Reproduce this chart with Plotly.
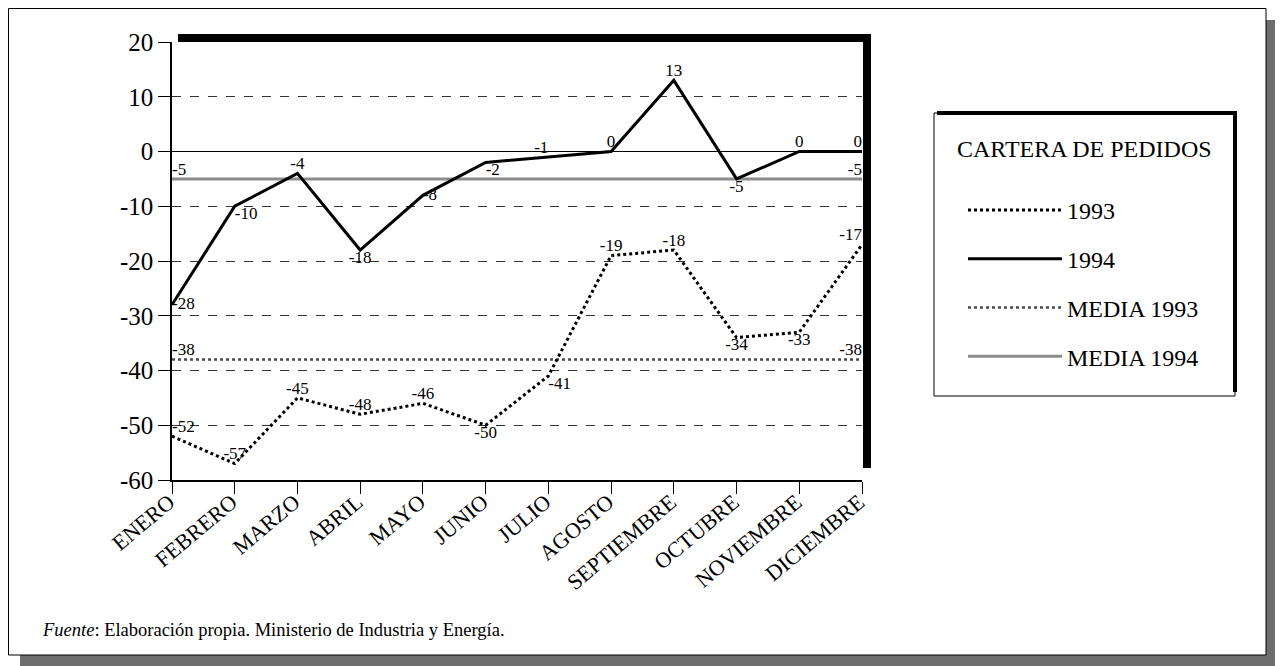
import plotly.graph_objects as go

MONTHS = ["ENERO", "FEBRERO", "MARZO", "ABRIL", "MAYO", "JUNIO", "JULIO",
          "AGOSTO", "SEPTIEMBRE", "OCTUBRE", "NOVIEMBRE", "DICIEMBRE"]
Y1993 = [-52, -57, -45, -48, -46, -50, -41, -19, -18, -34, -33, -17]
Y1994 = [-28, -10, -4, -18, -8, -2, -1, 0, 13, -5, 0, 0]
MEDIA_1993 = -38
MEDIA_1994 = -5
Y_TICKS = [20, 10, 0, -10, -20, -30, -40, -50, -60]

FONT = "Liberation Serif"
OFF = 8                      # page body margin in the browser
W, H = 1283 - OFF, 666 - OFF
# plot area in screen pixels
SL, SR, ST, SB = 172, 862, 42, 480
L, R, T, B = SL - OFF, SR - OFF, ST - OFF, SB - OFF


def X(px):
    return (px - OFF - L) / (R - L)


def Y(py):
    return (B - (py - OFF)) / (B - T)


xs = list(range(len(MONTHS)))

pos1994 = ["middle right", "bottom right", "top center", "bottom center", "middle right",
           "bottom right", "top left", "top center", "top center", "bottom center",
           "top center", "top left"]
pos1993 = ["top right", "top center", "top center", "top center", "top center",
           "bottom center", "bottom right", "top center", "top center", "bottom center",
           "bottom center", "top left"]


def end_labels(v):
    t = [""] * len(MONTHS)
    t[0] = str(v)
    t[-1] = str(v)
    return t


end_pos = ["top right"] + ["top center"] * (len(MONTHS) - 2) + ["top left"]
LBL = dict(family=FONT, size=17, color="black")

fig = go.Figure()

fig.add_trace(go.Scatter(
    x=xs, y=[MEDIA_1993] * len(MONTHS), name="MEDIA 1993", mode="lines+text",
    text=end_labels(MEDIA_1993), textposition=end_pos, textfont=LBL,
    line=dict(color="#4a4a4a", width=2.5, dash="dot"), legendgroup="m93", legendrank=3))
fig.add_trace(go.Scatter(
    x=xs, y=[MEDIA_1994] * len(MONTHS), name="MEDIA 1994", mode="lines+text",
    text=end_labels(MEDIA_1994), textposition=end_pos, textfont=LBL,
    line=dict(color="#8c8c8c", width=3), legendgroup="m94", legendrank=4))
fig.add_trace(go.Scatter(
    x=xs, y=Y1993, name="1993", mode="lines+text",
    text=[str(v) for v in Y1993], textposition=pos1993, textfont=LBL,
    line=dict(color="black", width=3, dash="dot"), legendgroup="a93", legendrank=1))
fig.add_trace(go.Scatter(
    x=xs, y=Y1994, name="1994", mode="lines+text",
    text=[str(v) for v in Y1994], textposition=pos1994, textfont=LBL,
    line=dict(color="black", width=3), legendgroup="a94", legendrank=2))


def rect(x0, y0, x1, y1, **kw):
    d = dict(type="rect", xref="paper", yref="paper", x0=X(x0), x1=X(x1), y0=Y(y1), y1=Y(y0))
    d.update(kw)
    return d


NOLINE = dict(width=0)
shapes = [
    # outer frame and its shadow
    rect(1266, 20, 1283, 666, fillcolor="#6e6e6e", line=NOLINE, layer="below"),
    rect(20, 655, 1283, 666, fillcolor="#6e6e6e", line=NOLINE, layer="below"),
    rect(8.5, 8.5, 1266, 655, fillcolor="white", line=dict(color="black", width=1), layer="below"),
    # plot frame shadow
    rect(178, 34, 871, 42, fillcolor="black", line=NOLINE),
    rect(863, 34, 871, 468, fillcolor="black", line=NOLINE),
    # legend box
    rect(934, 113, 1235, 396, fillcolor="white", line=dict(color="black", width=1), layer="below"),
    rect(937, 111, 1237, 115, fillcolor="black", line=NOLINE),
    rect(1233, 111, 1237, 392, fillcolor="black", line=NOLINE),
]

annotations = [
    dict(text="CARTERA DE PEDIDOS", xref="paper", yref="paper", x=X(1084), y=Y(149),
         xanchor="center", yanchor="middle", showarrow=False,
         font=dict(family=FONT, size=24, color="black")),
    dict(text="<i>Fuente</i>: Elaboración propia. Ministerio de Industria y Energía.",
         xref="paper", yref="paper", x=X(40), y=Y(630), xanchor="left", yanchor="middle",
         showarrow=False, font=dict(family=FONT, size=18.5, color="black")),
]

fig.update_layout(
    width=W, height=H,
    margin=dict(l=L, r=W - R, t=T, b=H - B),
    paper_bgcolor="white", plot_bgcolor="rgba(0,0,0,0)",
    font=dict(family=FONT, color="black"),
    shapes=shapes, annotations=annotations,
    showlegend=True,
    legend=dict(x=X(963), y=Y(188), xanchor="left", yanchor="top",
                bgcolor="rgba(0,0,0,0)", borderwidth=0, itemwidth=94,
                tracegroupgap=14.5, traceorder="grouped",
                font=dict(family=FONT, size=24, color="black")),
    xaxis=dict(range=[0, 11], tickvals=xs, ticktext=MONTHS, tickangle=-40,
               showgrid=False, zeroline=False, showline=True, linecolor="black", linewidth=1.5,
               ticks="outside", ticklen=12, tickcolor="black",
               ticklabelstandoff=-13, ticklabelshift=-3,
               tickfont=dict(family=FONT, size=22, color="black")),
    yaxis=dict(range=[-60, 20], tickvals=Y_TICKS, ticktext=[str(v) for v in Y_TICKS],
               showgrid=True, gridcolor="#333333", gridwidth=1, griddash="dash",
               zeroline=True, zerolinecolor="black", zerolinewidth=1.2,
               showline=True, linecolor="black", linewidth=1.5,
               ticks="outside", ticklen=12, tickcolor="black",
               tickfont=dict(family=FONT, size=25, color="black")),
)

fig.write_html("out.html")
